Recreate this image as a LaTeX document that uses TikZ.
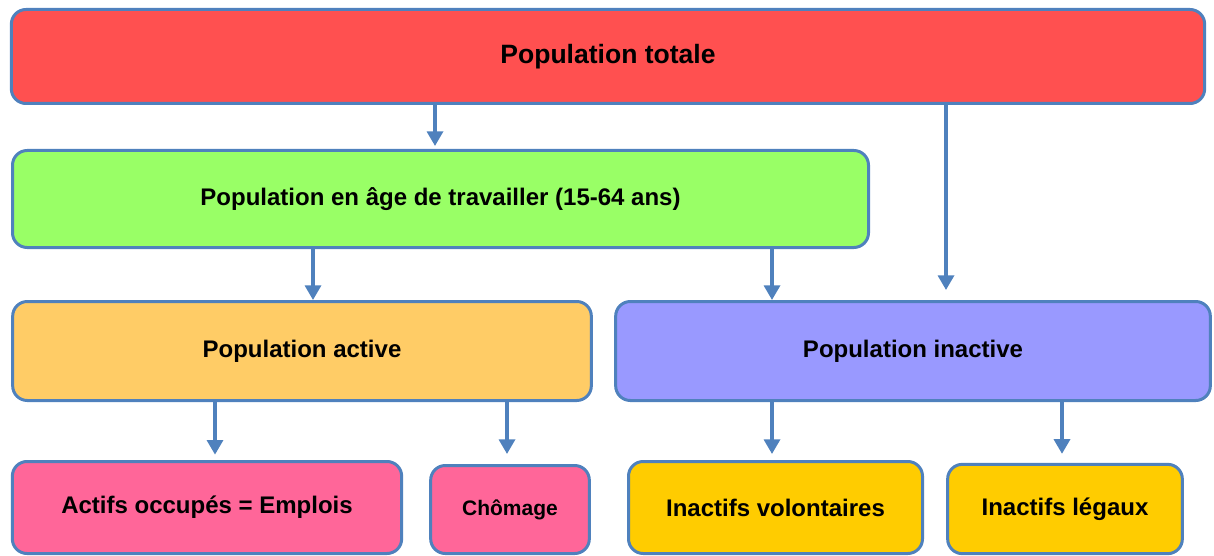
\documentclass[tikz,border=0pt]{standalone}
\usepackage{fontspec}
\setmainfont{Liberation Sans}
\usetikzlibrary{arrows.meta}

\definecolor{edgeblue}{RGB}{79,129,189}
\definecolor{totalred}{RGB}{255,80,80}
\definecolor{agegreen}{RGB}{153,255,102}
\definecolor{activeorange}{RGB}{255,204,102}
\definecolor{inactivepurple}{RGB}{153,153,255}
\definecolor{jobpink}{RGB}{255,102,153}
\definecolor{inactivegold}{RGB}{255,204,0}

\tikzset{every picture/.style={line width=0.75pt}}
\tikzset{
  box/.style={draw=edgeblue, line width=2.25pt, rounded corners=11pt, align=center,
    font=\bfseries\fontsize{18pt}{21pt}\selectfont},
  link/.style={draw=edgeblue, line width=2.5pt, -{Triangle[width=12pt,length=11pt]}}
}

\begin{document}
\begin{tikzpicture}[x=0.75pt,y=0.75pt,yscale=-1,xscale=1]
\useasboundingbox (0,0) rectangle (1214,556);

%Rounded Rect [id:top]
\node [box, fill=totalred, minimum width=895pt, minimum height=70.5pt, font=\bfseries\fontsize{19.9pt}{23pt}\selectfont] (total) at (608,56.5) {Population totale};
%Rounded Rect [id:age]
\node [box, fill=agegreen, minimum width=642pt, minimum height=72.75pt] (age) at (440.5,199) {Population en âge de travailler (15-64 ans)};
%Rounded Rect [id:active]
\node [box, fill=activeorange, minimum width=434pt, minimum height=74.25pt] (active) at (302,351) {Population active};
%Rounded Rect [id:inactive]
\node [box, fill=inactivepurple, minimum width=446pt, minimum height=74.25pt] (inactive) at (913,351) {Population inactive};
%Rounded Rect [id:jobs]
\node [box, fill=jobpink, minimum width=292pt, minimum height=69pt] (jobs) at (207,507.5) {Actifs occupés = Emplois};
%Rounded Rect [id:unemployed]
\node [box, fill=jobpink, minimum width=119pt, minimum height=66pt, font=\bfseries\fontsize{15.75pt}{18pt}\selectfont] (unemployed) at (510,509.5) {Chômage};
%Rounded Rect [id:voluntary]
\node [box, fill=inactivegold, minimum width=220.5pt, minimum height=69pt] (voluntary) at (775.5,507.5) {Inactifs volontaires};
%Rounded Rect [id:legal]
\node [box, fill=inactivegold, minimum width=176pt, minimum height=67pt] (legal) at (1065,509) {Inactifs légaux};

%Arrow columns
\coordinate (c1) at (435,0);
\coordinate (c2) at (946,0);
\coordinate (c3) at (313,0);
\coordinate (c4) at (772,0);
\coordinate (c5) at (215,0);
\coordinate (c6) at (507,0);
\coordinate (c7) at (1062,0);

%Straight Lines
\draw [link, shorten >=2.25pt] (total.south -| c1) -- (age.north -| c1) ;
\draw [link, shorten >=7.5pt] (total.south -| c2) -- (inactive.north -| c2) ;
\draw [link] (age.south -| c3) -- (active.north -| c3) ;
\draw [link] (age.south -| c4) -- (inactive.north -| c4) ;
\draw [link, shorten >=4pt] (active.south -| c5) -- (jobs.north -| c5) ;
\draw [link, shorten >=7.5pt] (active.south -| c6) -- (unemployed.north -| c6) ;
\draw [link, shorten >=4.5pt] (inactive.south -| c4) -- (voluntary.north -| c4) ;
\draw [link, shorten >=6.75pt] (inactive.south -| c7) -- (legal.north -| c7) ;

\end{tikzpicture}
\end{document}
